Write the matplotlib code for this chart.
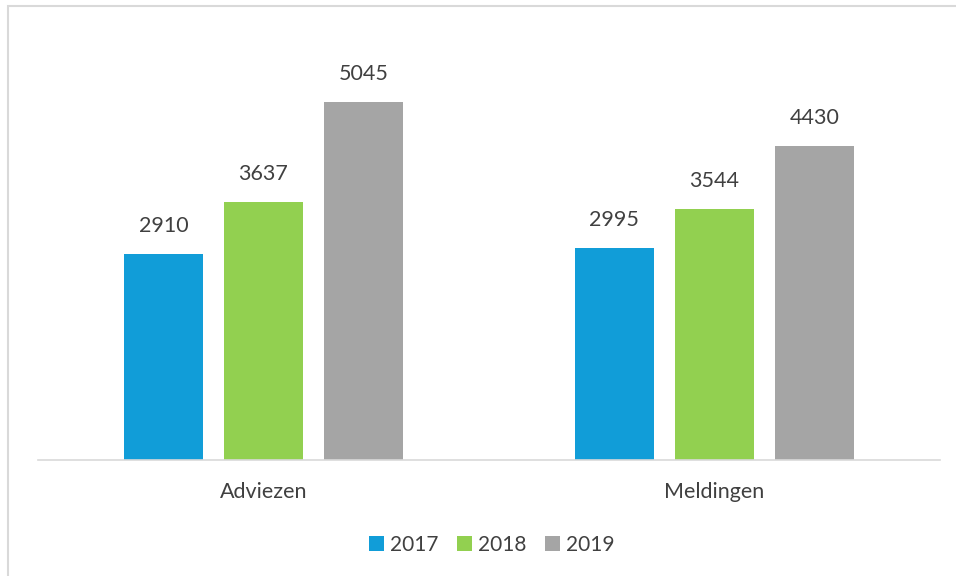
import matplotlib
matplotlib.use("Agg")
import matplotlib.pyplot as plt
import numpy as np
from matplotlib.patches import Rectangle

categories = ["Adviezen", "Meldingen"]
years = ["2017", "2018", "2019"]
values_2017 = [2910, 2995]
values_2018 = [3637, 3544]
values_2019 = [5045, 4430]
colors = ["#119DD8", "#92D050", "#A5A5A5"]

plt.rcParams['font.family'] = ['Lato', 'DejaVu Sans']
text_color = "#404040"

fig = plt.figure(figsize=(9.56, 5.76), dpi=100)
ax = fig.add_axes([38/956, 1-460/576, 902/956, 430/576])

x = np.arange(len(categories))
width = 0.175
step = 0.222
series = [values_2017, values_2018, values_2019]
for i, (vals, yr, c) in enumerate(zip(series, years, colors)):
    pos = x + (i - 1) * step
    bars = ax.bar(pos, vals, width=width, color=c, label=yr)
    for b, v in zip(bars, vals):
        ax.annotate(str(v), (b.get_x() + b.get_width()/2, v), xytext=(0, 20),
                    textcoords="offset points", ha="center", va="center",
                    fontsize=15.5, color=text_color)

ax.set_xlim(-0.5, 1.5)
ax.set_ylim(0, 6063)
ax.set_yticks([])
ax.set_xticks(x)
ax.set_xticklabels(categories, fontsize=15.5, color=text_color)
ax.tick_params(axis='x', length=0, pad=16)
for s in ["top", "right", "left"]:
    ax.spines[s].set_visible(False)
ax.spines["bottom"].set_color("#D9D9D9")
ax.spines["bottom"].set_linewidth(1.2)

leg = fig.legend(loc="center", bbox_to_anchor=(492/956, 1-545/576), ncol=3,
                 frameon=False, fontsize=15, handlelength=0.7, handleheight=0.7,
                 handletextpad=0.3, columnspacing=0.9)
for t in leg.get_texts():
    t.set_color(text_color)

border = Rectangle((8/956, -0.1), 1.2, 1.1 - 6/576 + 0.0, transform=fig.transFigure,
                   fill=False, edgecolor="#D9D9D9", linewidth=1.5, clip_on=False)
fig.patches.append(border)

fig.savefig("out.png", dpi=100)
